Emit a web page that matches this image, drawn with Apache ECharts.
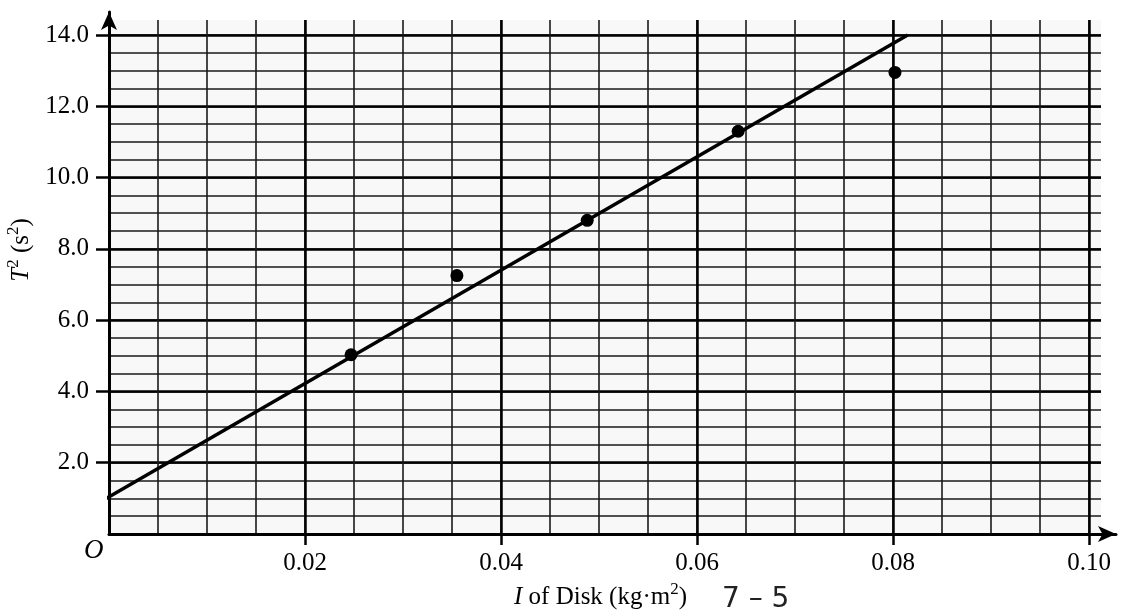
<!DOCTYPE html>
<html>
<head>
<meta charset="utf-8">
<script src="https://cdn.jsdelivr.net/npm/echarts@6/dist/echarts.min.js"></script>
<style>
  html, body { margin: 0; padding: 0; background: #fff; }
  #chart { width: 1123px; height: 614px; }
</style>
</head>
<body>
<div id="chart"></div>
<script>
// measured points (I in kg·m², T² in s²)
const pointsI = [0.0247, 0.0355, 0.0488, 0.0642, 0.0802]
const pointsT2 = [5.03, 7.25, 8.8, 11.3, 12.95]

// hand drawn best fit line, end points
const fitI = [-0.0009, 0.0815]
const fitT2 = [0.9, 14.0]

// labelled ticks
const xTicks = [0.02, 0.04, 0.06, 0.08, 0.10]
const yTicks = [2, 4, 6, 8, 10, 12, 14]

// pixel scale of the paper grid
const X_PX = 9800   // px per kg·m²
const Y_PX = 35.64  // px per s²
const LEFT = 109, BOTTOM = 80

const xMaxGrid = (1101 - LEFT) / X_PX
const yMaxGrid = (534 - 20) / Y_PX
const xMaxAxis = (1116 - LEFT) / X_PX
const yMaxAxis = (534 - 12) / Y_PX

const serif = 'Liberation Serif'
const ink = '#000'

let gridAxis = (max, interval, width, color) => ({
    type: 'value',
    gridIndex: 0,
    min: 0,
    max: max,
    interval: interval,
    axisLine: { show: false },
    axisTick: { show: false },
    axisLabel: { show: false },
    splitLine: {
        show: true,
        showMinLine: false,
        showMaxLine: false,
        lineStyle: { color: color, width: width }
    }
})

let nameRich = {
    i: { fontFamily: serif, fontSize: 25, fontStyle: 'italic', color: ink },
    sup: { fontFamily: serif, fontSize: 17, color: ink, verticalAlign: 'top', padding: [0, 0, 16, 0] }
}

let option = {
    animation: false,
    backgroundColor: '#fff',
    grid: [
        { left: LEFT, right: 1123 - 1101, top: 20, bottom: BOTTOM, show: true, backgroundColor: '#f8f8f8', borderWidth: 0, outerBoundsMode: 'none' },
        { left: LEFT, right: 1123 - 1116, top: 12, bottom: BOTTOM, outerBoundsMode: 'none' }
    ],
    xAxis: [
        gridAxis(xMaxGrid, 0.005, 1.6, '#1a1a1a'),
        gridAxis(xMaxGrid, 0.02, 2.5, '#000'),
        {
            type: 'value',
            gridIndex: 1,
            min: 0,
            max: xMaxAxis,
            position: 'bottom',
            axisLine: {
                show: true, onZero: false,
                symbol: ['none', 'arrow'], symbolSize: [12, 18],
                lineStyle: { color: '#000', width: 3 }
            },
            axisTick: { show: true, customValues: xTicks, length: 11, lineStyle: { color: ink, width: 2.5 } },
            axisLabel: {
                customValues: xTicks, margin: 17,
                formatter: v => v.toFixed(2),
                fontFamily: serif, fontSize: 25, color: ink
            },
            splitLine: { show: false },
            name: '{i|I} of Disk (kg·m{sup|2})',
            nameLocation: 'middle',
            nameGap: 46,
            nameTextStyle: {
                fontFamily: serif, fontSize: 25, color: ink,
                padding: [0, 24, 0, 0],
                rich: nameRich
            }
        }
    ],
    yAxis: [
        gridAxis(yMaxGrid, 0.5, 1.6, '#1a1a1a'),
        gridAxis(yMaxGrid, 2, 2.5, '#000'),
        {
            type: 'value',
            gridIndex: 1,
            min: 0,
            max: yMaxAxis,
            position: 'left',
            axisLine: {
                show: true, onZero: false,
                symbol: ['none', 'arrow'], symbolSize: [12, 18],
                lineStyle: { color: '#000', width: 3 }
            },
            axisTick: { show: true, customValues: yTicks, length: 13, lineStyle: { color: ink, width: 2.5 } },
            axisLabel: {
                customValues: yTicks, margin: 20,
                formatter: v => v.toFixed(1),
                fontFamily: serif, fontSize: 25, color: ink
            },
            splitLine: { show: false },
            name: '{i|T}{sup|2} (s{sup|2})',
            nameLocation: 'middle',
            nameGap: 68,
            nameTextStyle: {
                fontFamily: serif, fontSize: 25, color: ink,
                padding: [0, 0, 0, 46],
                rich: nameRich
            }
        }
    ],
    graphic: [
        {
            type: 'text', left: 84, top: 537,
            style: { text: 'O', fontFamily: serif, fontSize: 27, fontStyle: 'italic', fill: ink }
        },
        {
            type: 'text', left: 722, top: 586,
            style: { text: '7 – 5', fontFamily: 'DejaVu Sans', fontSize: 28, fill: '#222' }
        }
    ],
    series: [
        {
            name: 'fit',
            type: 'line',
            xAxisIndex: 0,
            yAxisIndex: 0,
            clip: false,
            symbol: 'none',
            data: fitI.map((v, i) => [v, fitT2[i]]),
            lineStyle: { color: '#000', width: 3.5 },
            z: 3
        },
        {
            name: 'measured',
            type: 'scatter',
            xAxisIndex: 0,
            yAxisIndex: 0,
            symbol: 'circle',
            symbolSize: 13,
            data: pointsI.map((v, i) => [v, pointsT2[i]]),
            itemStyle: { color: '#000', opacity: 1 },
            z: 4
        }
    ]
}

let chart = echarts.init(document.getElementById('chart'), null, { renderer: 'canvas' })
chart.setOption(option)
</script>
</body>
</html>
